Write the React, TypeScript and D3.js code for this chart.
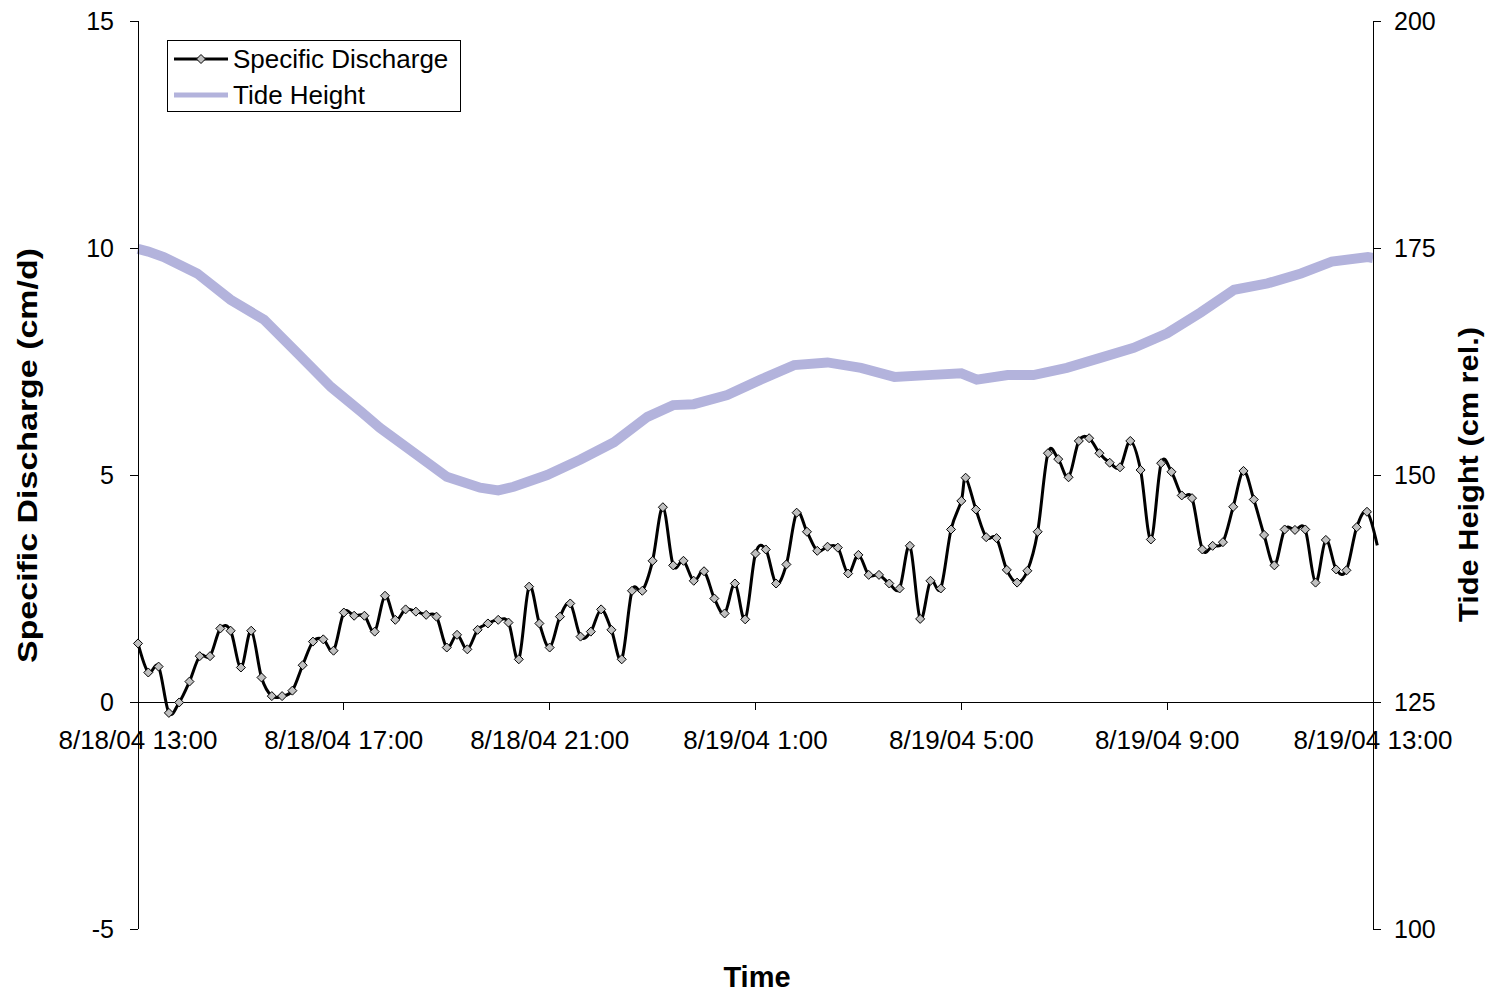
import React from "react";
import * as d3 from "d3";

// ---- data ----
const startTime = new Date(2004, 7, 18, 13, 0);
const endTime = new Date(2004, 7, 19, 13, 0);

// Specific discharge (cm/d), sampled every 12 minutes; logger restarts at +965 min
const dischargeA = [
  1.29, 0.65, 0.78, -0.24, -0.01, 0.45, 1.01, 1.01, 1.62, 1.57,
  0.76, 1.57, 0.54, 0.13, 0.13, 0.25, 0.81, 1.33, 1.38, 1.13,
  1.97, 1.9, 1.9, 1.55, 2.34, 1.81, 2.04, 1.99, 1.92, 1.88,
  1.2, 1.48, 1.16, 1.59, 1.73, 1.81, 1.75, 0.94, 2.54, 1.73,
  1.2, 1.88, 2.17, 1.44, 1.55, 2.04, 1.59, 0.94, 2.45, 2.45,
  3.11, 4.29, 3.01, 3.11, 2.67, 2.88, 2.28, 1.95, 2.61, 1.82,
  3.27, 3.36, 2.61, 3.03, 4.17, 3.75, 3.33, 3.42, 3.4, 2.83,
  3.24, 2.8, 2.8, 2.61, 2.5, 3.44, 1.83, 2.67, 2.5, 3.8,
  4.43,
];
const dischargeB = [
  4.94, 4.24, 3.63, 3.61, 2.91, 2.63, 2.89, 3.75, 5.48, 5.35,
  4.95, 5.75, 5.81, 5.48, 5.27, 5.17, 5.75, 5.11, 3.58, 5.26,
  5.07, 4.55, 4.49, 3.36, 3.44, 3.52, 4.3, 5.09, 4.46, 3.68,
  3.01, 3.8, 3.79, 3.8, 2.63, 3.57, 2.92, 2.9, 3.85, 4.19,
  3.45,
];
const stepMinutes = 12;
const segmentBStartMinutes = 965;

// Tide height (cm rel.) readings: hours after start, height
const tideHours = [
  0, 0.2, 0.5, 1.15, 1.8, 2.45, 3.1, 3.75, 4.35, 4.7, 5.35, 6.0, 6.65, 7.0, 7.3,
  7.95, 8.6, 9.25, 9.9, 10.4, 10.8, 11.45, 12.1, 12.75, 13.4, 14.05, 14.7,
  15.35, 16.0, 16.3, 16.9, 17.4, 18.05, 18.7, 19.35, 20.0, 20.65, 21.3,
  21.95, 22.6, 23.2, 23.9, 24.0,
];
const tideHeights = [
  174.9, 174.6, 174.0, 172.2, 169.3, 167.1, 163.4, 159.7, 156.9, 155.2, 152.5,
  149.8, 148.6, 148.3, 148.7, 150.0, 151.7, 153.6, 156.4, 157.7, 157.8,
  158.8, 160.5, 162.1, 162.4, 161.8, 160.8, 161.0, 161.2, 160.5, 161.0,
  161.0, 161.8, 162.9, 164.0, 165.6, 167.9, 170.4, 171.1, 172.2, 173.5,
  174.0, 173.9,
];

const tickHours = [0, 4, 8, 12, 16, 20, 24];
const leftTicks = [-5, 0, 5, 10, 15];
const rightTicks = [100, 125, 150, 175, 200];
const seriesNames = ["Specific Discharge", "Tide Height"];

// ---- layout ----
const W = 1494;
const H = 995;
const X0 = 138;
const X1 = 1373;
const Y0 = 929;
const Y1 = 21;
const FONT = "Arial, 'Liberation Sans', Helvetica, sans-serif";
const TIDE_COLOR = "#b3b3dc";

const addMin = (m: number) => new Date(startTime.getTime() + m * 60000);

export default function App() {
  const x = d3.scaleTime().domain([startTime, endTime]).range([X0, X1]);
  const yL = d3.scaleLinear().domain([-5, 15]).range([Y0, Y1]);
  const yR = d3.scaleLinear().domain([100, 200]).range([Y0, Y1]);

  const discharge: { t: Date; v: number }[] = [
    ...dischargeA.map((v, i) => ({ t: addMin(i * stepMinutes), v })),
    ...dischargeB.map((v, i) => ({ t: addMin(segmentBStartMinutes + i * stepMinutes), v })),
  ];
  const tide = tideHours.map((h, i) => ({ t: addMin(h * 60), v: tideHeights[i] }));

  const dLine = d3
    .line<{ t: Date; v: number }>()
    .x((d) => x(d.t))
    .y((d) => yL(d.v))
    .curve(d3.curveCardinal.tension(0));
  const tLine = d3
    .line<{ t: Date; v: number }>()
    .x((d) => x(d.t))
    .y((d) => yR(d.v))
    .curve(d3.curveLinear);

  const xTicks = tickHours.map((h) => addMin(h * 60));
  const fmt = d3.timeFormat("%-m/%-d/%y %-H:%M");
  const diamond = "M0,-4.5L4.5,0L0,4.5L-4.5,0Z";
  const yZero = yL(0);

  return (
    <svg
      width={W}
      height={H}
      style={{ position: "absolute", left: 0, top: 0, background: "#fff" }}
      fontFamily={FONT}
    >
      {/* tide */}
      <path d={tLine(tide) || ""} fill="none" stroke={TIDE_COLOR} strokeWidth={10} />

      {/* axes */}
      <g shapeRendering="crispEdges" stroke="#000" strokeWidth={1}>
        <line x1={X0} x2={X0} y1={Y1} y2={Y0} />
        <line x1={X1} x2={X1} y1={Y1} y2={Y0} />
        <line x1={X0} x2={X1} y1={yZero} y2={yZero} />
        {leftTicks.map((t) => (
          <line key={"lt" + t} x1={X0 - 8} x2={X0} y1={yL(t)} y2={yL(t)} />
        ))}
        {rightTicks.map((t) => (
          <line key={"rt" + t} x1={X1} x2={X1 + 8} y1={yR(t)} y2={yR(t)} />
        ))}
        {xTicks.map((t, i) => (
          <line key={"xt" + i} x1={x(t)} x2={x(t)} y1={yZero} y2={yZero + 8} />
        ))}
      </g>
      {leftTicks.map((t) => (
        <text key={"l" + t} x={114} y={yL(t)} dy="0.36em" textAnchor="end" fontSize={25}>
          {t}
        </text>
      ))}
      {rightTicks.map((t) => (
        <text key={"r" + t} x={1394} y={yR(t)} dy="0.36em" textAnchor="start" fontSize={25}>
          {t}
        </text>
      ))}
      {xTicks.map((t, i) => (
        <text key={"x" + i} x={x(t)} y={749} textAnchor="middle" fontSize={26}>
          {fmt(t)}
        </text>
      ))}

      {/* discharge */}
      <path d={dLine(discharge) || ""} fill="none" stroke="#000" strokeWidth={3} />
      {discharge
        .filter((d) => d.t <= endTime)
        .map((d, i) => (
          <path
            key={"m" + i}
            d={diamond}
            transform={`translate(${x(d.t)},${yL(d.v)})`}
            fill="#c0c0c0"
            stroke="#000"
            strokeWidth={1}
          />
        ))}

      {/* titles */}
      <text
        transform="translate(37,455.5) rotate(-90)"
        textAnchor="middle"
        fontWeight="bold"
        fontSize={28}
        textLength={415}
        lengthAdjust="spacingAndGlyphs"
      >
        Specific Discharge (cm/d)
      </text>
      <text
        transform="translate(1478,474.5) rotate(-90)"
        textAnchor="middle"
        fontWeight="bold"
        fontSize={28}
        textLength={295}
        lengthAdjust="spacingAndGlyphs"
      >
        Tide Height (cm rel.)
      </text>
      <text x={757} y={987} textAnchor="middle" fontWeight="bold" fontSize={29}>
        Time
      </text>

      {/* legend */}
      <rect x={167.5} y={40.5} width={293} height={71} fill="#fff" stroke="#000" strokeWidth={1} />
      <line x1={174} x2={228} y1={59} y2={59} stroke="#000" strokeWidth={3} />
      <path d={diamond} transform="translate(201,59)" fill="#c0c0c0" stroke="#000" strokeWidth={1} />
      <text x={233} y={59} dy="0.36em" fontSize={26}>
        {seriesNames[0]}
      </text>
      <line x1={174} x2={228} y1={95} y2={95} stroke={TIDE_COLOR} strokeWidth={5} />
      <text x={233} y={95} dy="0.36em" fontSize={26}>
        {seriesNames[1]}
      </text>
    </svg>
  );
}
